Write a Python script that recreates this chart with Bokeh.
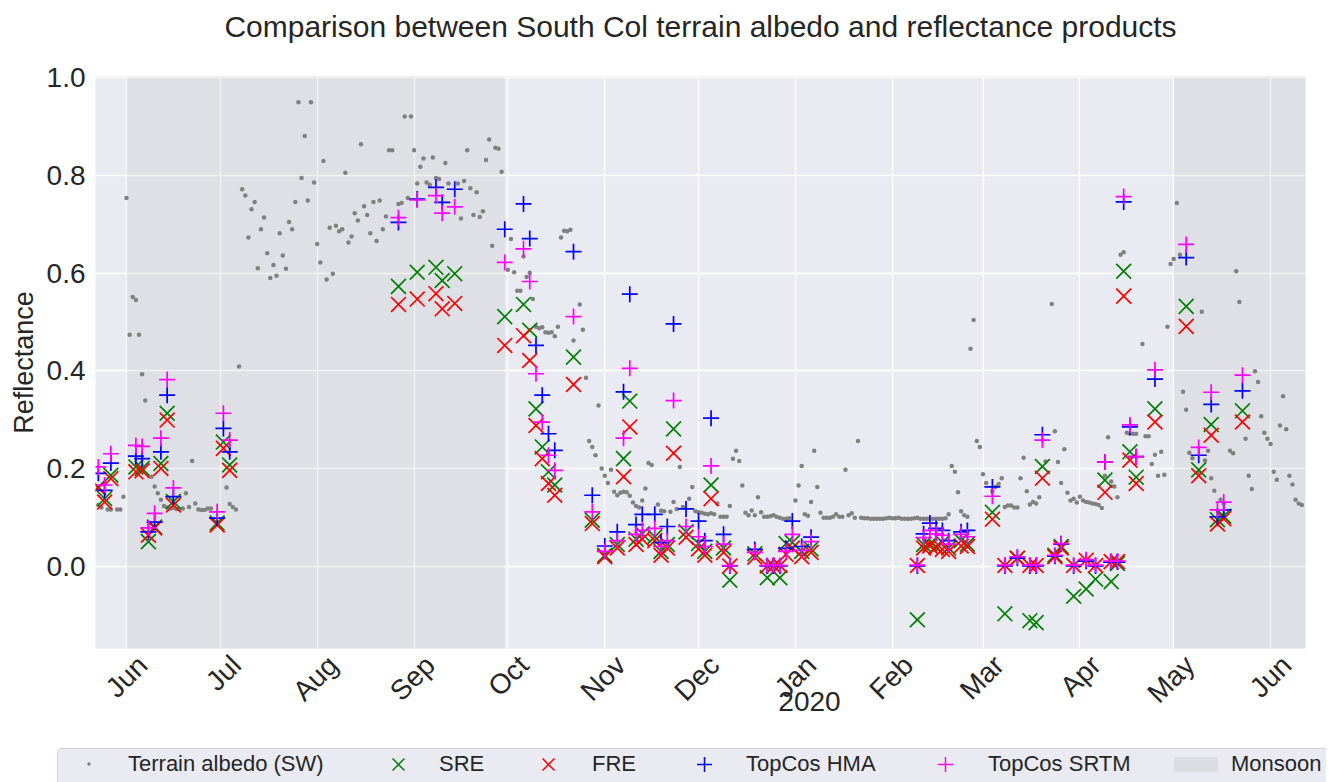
import math
import pandas as pd
from bokeh.plotting import figure
from bokeh.layouts import column
from bokeh.models import (Range1d, FixedTicker, DatetimeAxis, LinearAxis, Div,
                          NumeralTickFormatter, ColumnDataSource)
from bokeh.embed import file_html
from bokeh.resources import INLINE

# ---------------- data (days counted from 2019-06-01) ----------------
START = "2019-06-01"

alb_day = [-9, -8, -6, -5, -3, -2, -1, 0, 1, 2, 3, 4, 5, 6, 8, 9, 10, 11, 12, 13, 14, 15, 16, 17,
           18, 19, 20, 21, 22, 23, 24, 25, 26, 27, 32, 33, 34, 35, 36, 37, 38, 39, 40, 41, 42,
           43, 44, 45, 46, 47, 48, 49, 50, 51, 52, 53, 54, 55, 56, 57, 58, 59, 60, 61, 62, 63,
           64, 65, 66, 67, 68, 69, 70, 71, 72, 73, 74, 75, 76, 77, 78, 79, 80, 81, 82, 83, 84,
           85, 87, 88, 89, 90, 91, 92, 93, 94, 95, 96, 97, 98, 99, 100, 102, 103, 106, 107, 108,
           109, 110, 111, 112, 113, 114, 115, 116, 117, 118, 119, 120, 122, 123, 124, 125, 126,
           127, 128, 129, 130, 131, 132, 133, 134, 135, 136, 137, 138, 139, 140, 141, 142, 143,
           145, 146, 147, 148, 149, 150, 151, 152, 153, 154, 155, 156, 157, 158, 159, 160, 161,
           162, 163, 164, 165, 166, 167, 168, 170, 171, 172, 174, 175, 176, 177, 178, 180, 181,
           182, 183, 184, 185, 186, 187, 188, 189, 190, 191, 192, 193, 194, 195, 196, 197, 198,
           199, 200, 201, 202, 203, 204, 205, 206, 207, 208, 209, 210, 211, 212, 214, 215, 216,
           217, 218, 219, 220, 221, 222, 223, 224, 225, 226, 227, 228, 229, 230, 231, 232, 233,
           234, 235, 236, 237, 238, 239, 240, 241, 242, 243, 244, 245, 246, 247, 248, 249, 250,
           251, 252, 253, 254, 255, 256, 257, 258, 259, 260, 261, 262, 263, 264, 265, 266, 267,
           268, 269, 270, 271, 272, 273, 274, 275, 277, 278, 279, 280, 281, 282, 283, 284, 285,
           286, 287, 288, 289, 290, 291, 292, 294, 296, 297, 298, 299, 300, 301, 302, 303, 304,
           305, 306, 307, 308, 309, 310, 311, 312, 313, 314, 315, 316, 317, 318, 319, 320, 321,
           322, 323, 325, 326, 327, 328, 329, 330, 331, 332, 333, 334, 335, 336, 337, 338, 339,
           340, 341, 343, 344, 345, 346, 347, 348, 350, 351, 353, 354, 355, 356, 358, 359, 360,
           361, 362, 363, 364, 365, 366, 367, 368, 369, 370, 371, 372, 373, 374, 375, 376]

alb = [0.125, 0.12, 0.116, 0.116, 0.116, 0.116, 0.142, 0.754, 0.474, 0.551, 0.545, 0.474, 0.393,
       0.339, 0.183, 0.163, 0.149, 0.136, 0.123, 0.12, 0.118, 0.119, 0.117, 0.117, 0.118, 0.149,
       0.121, 0.215, 0.128, 0.116, 0.115, 0.115, 0.118, 0.118, 0.161, 0.127, 0.121, 0.116, 0.409,
       0.772, 0.759, 0.673, 0.731, 0.746, 0.61, 0.69, 0.714, 0.641, 0.59, 0.617, 0.595, 0.682,
       0.636, 0.609, 0.705, 0.69, 0.746, 0.95, 0.795, 0.881, 0.749, 0.95, 0.786, 0.66, 0.622,
       0.83, 0.587, 0.693, 0.599, 0.697, 0.686, 0.69, 0.806, 0.663, 0.675, 0.723, 0.708, 0.864,
       0.737, 0.719, 0.682, 0.746, 0.666, 0.749, 0.69, 0.716, 0.852, 0.852, 0.742, 0.744, 0.921,
       0.754, 0.921, 0.852, 0.784, 0.818, 0.835, 0.786, 0.781, 0.837, 0.795, 0.793, 0.826, 0.784,
       0.784, 0.712, 0.789, 0.852, 0.774, 0.719, 0.766, 0.715, 0.727, 0.832, 0.874, 0.656, 0.857,
       0.855, 0.808, 0.607, 0.67, 0.602, 0.564, 0.564, 0.634, 0.592, 0.601, 0.547, 0.49, 0.487,
       0.489, 0.479, 0.478, 0.479, 0.471, 0.49, 0.673, 0.687, 0.686, 0.689, 0.462, 0.536, 0.484,
       0.386, 0.256, 0.244, 0.227, 0.329, 0.2, 0.185, 0.17, 0.197, 0.152, 0.145, 0.15, 0.152,
       0.151, 0.144, 0.13, 0.123, 0.12, 0.134, 0.159, 0.211, 0.207, 0.126, 0.113, 0.112, 0.111,
       0.131, 0.117, 0.203, 0.121, 0.138, 0.162, 0.112, 0.11, 0.109, 0.107, 0.106, 0.108, 0.106,
       0.128, 0.101, 0.101, 0.101, 0.123, 0.22, 0.236, 0.215, 0.165, 0.109, 0.104, 0.114, 0.104,
       0.141, 0.11, 0.101, 0.101, 0.102, 0.104, 0.101, 0.099, 0.097, 0.097, 0.098, 0.134, 0.165,
       0.205, 0.106, 0.103, 0.131, 0.236, 0.162, 0.109, 0.099, 0.099, 0.099, 0.101, 0.106, 0.101,
       0.101, 0.197, 0.104, 0.108, 0.099, 0.256, 0.099, 0.098, 0.098, 0.097, 0.097, 0.097, 0.097,
       0.097, 0.098, 0.099, 0.098, 0.098, 0.099, 0.097, 0.097, 0.097, 0.097, 0.098, 0.099, 0.097,
       0.097, 0.097, 0.097, 0.097, 0.097, 0.097, 0.097, 0.098, 0.106, 0.205, 0.193, 0.151, 0.112,
       0.104, 0.101, 0.445, 0.504, 0.256, 0.244, 0.188, 0.17, 0.153, 0.162, 0.168, 0.18, 0.121,
       0.124, 0.124, 0.12, 0.12, 0.18, 0.222, 0.153, 0.126, 0.131, 0.128, 0.141, 0.214, 0.537,
       0.276, 0.213, 0.17, 0.239, 0.15, 0.134, 0.138, 0.13, 0.142, 0.134, 0.131, 0.13, 0.128,
       0.127, 0.125, 0.119, 0.185, 0.264, 0.173, 0.163, 0.141, 0.638, 0.643, 0.273, 0.271, 0.271,
       0.271, 0.455, 0.266, 0.266, 0.209, 0.228, 0.185, 0.234, 0.187, 0.49, 0.619, 0.629, 0.744,
       0.638, 0.357, 0.32, 0.232, 0.221, 0.19, 0.521, 0.216, 0.236, 0.18, 0.154, 0.136, 0.128,
       0.236, 0.231, 0.604, 0.541, 0.261, 0.185, 0.158, 0.399, 0.377, 0.307, 0.273, 0.261, 0.25,
       0.193, 0.177, 0.288, 0.348, 0.28, 0.185, 0.167, 0.136, 0.128, 0.125]

sat_day = [-9, -7, -5, 3, 5, 7, 9, 11, 13, 15, 29, 31, 33, 87, 93, 99, 101, 105, 121, 127, 129,
           131, 133, 135, 137, 143, 149, 153, 157, 159, 161, 163, 165, 169, 171, 173, 175, 179,
           183, 185, 187, 191, 193, 201, 205, 207, 209, 211, 213, 216, 219, 253, 255, 257, 259,
           261, 263, 267, 269, 277, 281, 285, 289, 291, 293, 297, 299, 303, 307, 310, 313, 315,
           317, 319, 321, 323, 329, 339, 343, 347, 349, 351, 357]

sre = [0.162, 0.138, 0.186, 0.203, 0.2, 0.05, 0.08, 0.21, 0.313, 0.132, 0.088, 0.254, 0.207,
       0.573, 0.602, 0.612, 0.585, 0.599, 0.511, 0.536, 0.483, 0.322, 0.244, 0.193, 0.166, 0.428,
       0.094, 0.022, 0.044, 0.22, 0.338, 0.055, 0.066, 0.06, 0.03, 0.044, 0.281, 0.07, 0.046,
       0.03, 0.166, 0.037, -0.029, 0.025, -0.024, 0.0, -0.024, 0.046, 0.048, 0.03, 0.035, -0.11,
       0.044, 0.045, 0.04, 0.048, 0.037, 0.052, 0.045, 0.11, -0.098, 0.016, -0.112, -0.116,
       0.204, 0.022, 0.04, -0.062, -0.047, -0.027, 0.176, -0.032, 0.005, 0.604, 0.234, 0.182,
       0.322, 0.532, 0.197, 0.29, 0.095, 0.102, 0.318]

fre = [0.16, 0.131, 0.179, 0.193, 0.195, 0.063, 0.078, 0.2, 0.299, 0.125, 0.084, 0.241, 0.196,
       0.536, 0.547, 0.558, 0.527, 0.538, 0.452, 0.472, 0.421, 0.288, 0.22, 0.169, 0.145, 0.372,
       0.087, 0.019, 0.037, 0.183, 0.285, 0.044, 0.055, 0.052, 0.022, 0.037, 0.231, 0.059, 0.035,
       0.022, 0.138, 0.028, 0.0, 0.018, 0.0, 0.0, 0.001, 0.024, 0.037, 0.019, 0.028, 0.001, 0.037,
       0.041, 0.038, 0.034, 0.03, 0.041, 0.04, 0.096, 0.001, 0.016, 0.001, 0.001, 0.18, 0.019,
       0.037, 0.001, 0.012, 0.001, 0.151, 0.009, 0.009, 0.553, 0.217, 0.169, 0.295, 0.491, 0.185,
       0.268, 0.086, 0.097, 0.295]

topcos_hma = [0.19, 0.155, 0.211, 0.225, 0.22, 0.07, 0.09, 0.234, 0.35, 0.142, 0.098, 0.282,
              0.234, 0.704, 0.752, 0.776, 0.745, 0.772, 0.69, 0.742, 0.671, 0.452, 0.35, 0.271,
              0.237, 0.644, 0.145, 0.041, 0.07, 0.357, 0.557, 0.085, 0.106, 0.106, 0.048, 0.081,
              0.496, 0.117, 0.092, 0.052, 0.303, 0.065, 0.0, 0.034, 0.0, 0.0, 0.0, 0.036, 0.092,
              0.04, 0.059, 0.0, 0.066, 0.088, 0.077, 0.073, 0.052, 0.07, 0.073, 0.162, 0.0, 0.016,
              0.0, 0.0, 0.269, 0.02, 0.045, 0.0, 0.01, 0.0, 0.213, 0.008, 0.008, 0.746, 0.285,
              0.224, 0.383, 0.632, 0.227, 0.331, 0.101, 0.115, 0.359]

topcos_srtm = [0.203, 0.166, 0.23, 0.247, 0.245, 0.078, 0.108, 0.262, 0.382, 0.16, 0.111,
               0.313, 0.258, 0.714, 0.75, 0.759, 0.723, 0.736, 0.622, 0.65, 0.583, 0.394, 0.295,
               0.227, 0.196, 0.511, 0.111, 0.03, 0.052, 0.262, 0.405, 0.065, 0.073, 0.077, 0.04,
               0.052, 0.339, 0.081, 0.06, 0.04, 0.205, 0.045, 0.001, 0.028, 0.001, 0.002, 0.001,
               0.03, 0.065, 0.032, 0.05, 0.002, 0.058, 0.073, 0.066, 0.063, 0.045, 0.065, 0.06,
               0.143, 0.002, 0.019, 0.002, 0.002, 0.258, 0.022, 0.046, 0.002, 0.013, 0.002, 0.213,
               0.01, 0.01, 0.757, 0.289, 0.224, 0.402, 0.659, 0.243, 0.356, 0.115, 0.131, 0.391]

monsoon_start = ["2019-06-01", "2020-05-01"]
monsoon_end = ["2019-09-30", "2020-09-30"]

month_ticks = ["2019-06-01", "2019-07-01", "2019-08-01", "2019-09-01", "2019-10-01",
               "2019-11-01", "2019-12-01", "2020-01-01", "2020-02-01", "2020-03-01",
               "2020-04-01", "2020-05-01", "2020-06-01"]
month_labels = ["Jun", "Jul", "Aug", "Sep", "Oct", "Nov", "Dec", "Jan", "Feb", "Mar", "Apr",
                "May", "Jun"]
year_tick = "2020-01-01"
year_label = "2020"
y_ticks = [0.0, 0.2, 0.4, 0.6, 0.8, 1.0]
title_text = "Comparison between South Col terrain albedo and reflectance products"
legend_labels = ["Terrain albedo (SW)", "SRE", "FRE", "TopCos HMA", "TopCos SRTM", "Monsoon"]

# ---------------- build ----------------
FONT = "Liberation Sans"
TXT = "#262626"
DAY_MS = 86400000.0
W = 1326
t0 = pd.Timestamp(START)
alb_src = ColumnDataSource(dict(t=[t0 + pd.Timedelta(days=d) for d in alb_day], v=alb))
sat_t = [t0 + pd.Timedelta(days=d) for d in sat_day]
sat_src = ColumnDataSource(dict(t=sat_t, sre=sre, fre=fre, hma=topcos_hma, srtm=topcos_srtm))
mon_src = ColumnDataSource(dict(l=[pd.Timestamp(s) for s in monsoon_start],
                                r=[pd.Timestamp(s) for s in monsoon_end],
                                b=[-5, -5], tp=[5, 5]))

STYLE = [("sre", "x", 21, "green"), ("fre", "x", 21, "red"),
         ("hma", "cross", 16, "blue"), ("srtm", "cross", 16, "magenta")]

x0 = pd.Timestamp("2019-05-22 02:00")
x1 = pd.Timestamp("2020-06-12 04:00")

p = figure(width=W, height=748, x_axis_type="datetime", output_backend="svg",
           toolbar_location=None, x_range=Range1d(x0, x1), y_range=Range1d(-0.169, 1.003),
           min_border_left=95, min_border_right=21, min_border_top=76, min_border_bottom=100)
p.background_fill_color = "#EAEAF2"
p.border_fill_color = "white"
p.outline_line_color = None
xax = p.xaxis[0]
yax = p.yaxis[0]

p.quad(left="l", right="r", bottom="b", top="tp", source=mon_src,
       fill_color="gray", fill_alpha=0.1, line_color=None)
p.scatter("t", "v", source=alb_src, marker="circle", size=4.5,
          fill_color="gray", line_color=None)
for key, mk, sz, col in STYLE:
    p.scatter("t", key, source=sat_src, marker=mk, size=sz, line_color=col, line_width=1.7)

# axes: grid at month starts; rotated labels anchored a little later so they sit centred
tick_ms = [pd.Timestamp(s).value / 1e6 for s in month_ticks]
lab_ms = [t + 5.1 * DAY_MS for t in tick_ms]
xax.ticker = FixedTicker(ticks=lab_ms)
p.xgrid.ticker = FixedTicker(ticks=tick_ms)
xax.major_label_overrides = {t: l for t, l in zip(lab_ms, month_labels)}
xax.major_label_orientation = math.pi / 4
yax.ticker = FixedTicker(ticks=y_ticks)
p.ygrid.ticker = FixedTicker(ticks=y_ticks)
yax.formatter = NumeralTickFormatter(format="0.0")
yax.axis_label = "Reflectance"

year_ms = pd.Timestamp(year_tick).value / 1e6 + 4.5 * DAY_MS
year_axis = DatetimeAxis(ticker=FixedTicker(ticks=[year_ms]),
                         major_label_overrides={year_ms: year_label})
p.add_layout(year_axis, "below")

title_axis = LinearAxis(ticker=FixedTicker(ticks=[]), axis_label=title_text)
p.add_layout(title_axis, "above")

for ax in (xax, yax, year_axis, title_axis):
    ax.axis_line_color = None
    ax.major_tick_line_color = None
    ax.minor_tick_line_color = None
    ax.major_tick_out = 0
    ax.major_tick_in = 0
    ax.major_label_text_font = FONT
    ax.major_label_text_font_size = "28px"
    ax.major_label_text_color = TXT
    ax.axis_label_text_font = FONT
    ax.axis_label_text_font_size = "27px"
    ax.axis_label_text_font_style = "normal"
    ax.axis_label_text_color = TXT
xax.major_label_standoff = 12
yax.major_label_standoff = 10
yax.axis_label_standoff = 5
year_axis.major_label_standoff = -31
year_axis.major_label_orientation = "horizontal"
title_axis.major_label_standoff = 0
title_axis.axis_label_standoff = 34
title_axis.axis_label_text_font_size = "30px"

for g in (p.xgrid[0], p.ygrid[0]):
    g.grid_line_color = "white"
    g.grid_line_width = 1.4

# ---------------- legend strip below the chart (HTML) ----------------
# glyph centre x and label start x, in pixels from the left edge of the strip
glyph_x = [89, 398, 548, 704, 945, 1196]
label_x = [128, 439, 592, 746, 988, 1231]
MID = 16


def svg_glyph(kind, color):
    if kind == "dot":
        return ('<svg width="6" height="6" style="display:block">'
                f'<circle cx="3" cy="3" r="1.7" fill="{color}"/></svg>'), 6, 6
    if kind == "x":
        return ('<svg width="13" height="13" style="display:block">'
                f'<path d="M0.5 0.5L12.5 12.5M12.5 0.5L0.5 12.5" stroke="{color}" '
                'stroke-width="1.5" fill="none"/></svg>'), 13, 13
    if kind == "cross":
        return ('<svg width="15" height="15" style="display:block">'
                f'<path d="M7.5 0V15M0 7.5H15" stroke="{color}" stroke-width="1.5" '
                'fill="none"/></svg>'), 15, 15
    return ('<div style="width:44px;height:15px;background:rgba(128,128,128,0.13)"></div>',
            44, 15)


glyph_kinds = [("dot", "gray"), ("x", "green"), ("x", "red"), ("cross", "blue"),
               ("cross", "magenta"), ("patch", "gray")]
parts = ['<div style="position:absolute;left:57px;top:0px;width:1300px;height:44px;'
         'background:#EAEAF2;border:1px solid #D2D2D2;border-radius:5px;'
         'box-sizing:border-box"></div>']
for (kind, color), gx, lx, lab in zip(glyph_kinds, glyph_x, label_x, legend_labels):
    html, w, h = svg_glyph(kind, color)
    parts.append(f'<div style="position:absolute;left:{gx - w / 2:.1f}px;'
                 f'top:{MID - h / 2:.1f}px">{html}</div>')
    parts.append(f'<div style="position:absolute;left:{lx}px;top:0px;height:32px;'
                 f'line-height:32px;white-space:nowrap">{lab}</div>')
legend_html = (f'<div style="position:relative;width:{W}px;height:34px;overflow:hidden;'
               f"font-family:'{FONT}',sans-serif;font-size:22px;color:{TXT}\">"
               + "".join(parts) + "</div>")
legend_div = Div(text=legend_html, width=W, height=34, margin=0)

layout = column(p, legend_div, spacing=0)
open("out.html", "w").write(file_html(layout, INLINE))
